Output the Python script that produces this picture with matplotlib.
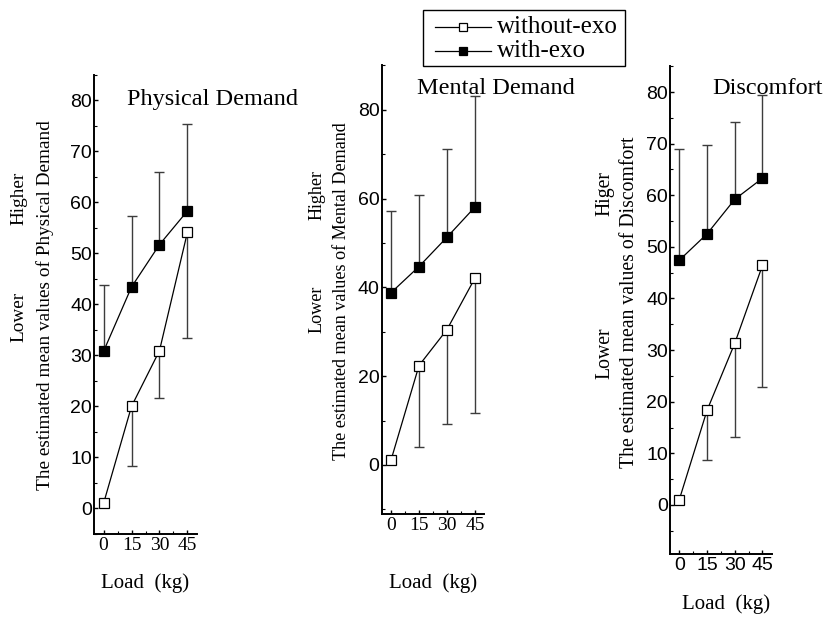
import matplotlib
matplotlib.use('Agg')
import matplotlib.pyplot as plt
from matplotlib.ticker import MultipleLocator, FixedLocator
from matplotlib.lines import Line2D
from matplotlib.patches import Rectangle

W, H = 826, 626

# ---------------- data ----------------
loads = [0, 15, 30, 45]
load_labels = ['0', '15', '30', '45']
series_names = ['without-exo', 'with-exo']

phys_without = [1.0, 20.0, 30.9, 54.1]
phys_with = [30.8, 43.4, 51.7, 58.3]
phys_without_err = [0.0, 11.8, 9.3, 20.7]   # lower error
phys_with_err = [13.0, 13.9, 14.3, 17.1]    # upper error

ment_without = [1.1, 22.4, 30.5, 42.1]
ment_with = [38.8, 44.7, 51.3, 58.1]
ment_without_err = [0.0, 18.4, 21.3, 30.4]
ment_with_err = [18.5, 16.2, 19.8, 24.9]

disc_without = [1.0, 18.3, 31.3, 46.4]
disc_with = [47.4, 52.5, 59.2, 63.3]
disc_without_err = [0.0, 9.5, 18.2, 23.5]
disc_with_err = [21.6, 17.3, 15.0, 16.1]

titles = ['Physical Demand', 'Mental Demand', 'Discomfort']
ylabels = ['The estimated mean values of Physical Demand',
           'The estimated mean values of Mental Demand',
           'The estimated mean values of Discomfort']
high_words = ['Higher', 'Higher', 'Higer']
low_word = 'Lower'
xlabel = 'Load  (kg)'

data = [
    (phys_without, phys_without_err, phys_with, phys_with_err),
    (ment_without, ment_without_err, ment_with, ment_with_err),
    (disc_without, disc_without_err, disc_with, disc_with_err),
]

# ---------------- layout (pixels) ----------------
layout = [
    dict(box=(94.3, 196.7, 74.8, 533.8), ylim=(-5, 85), major=10, minor=5,
         xtick_font='Liberation Serif', lab_fs=13.9,
         title=(127, 100), ylab=(45, 305), hi=(19, 198), lo=(19, 317),
         xlab=(145, 583)),
    dict(box=(381.7, 484.3, 65.4, 513.8), ylim=(-11, 90), major=20, minor=10,
         xtick_font='Liberation Serif', lab_fs=13.1,
         title=(417, 88), ylab=(341.7, 291), hi=(316.7, 195.5),
         lo=(316.7, 309.6), xlab=(433.3, 583)),
    dict(box=(670.0, 771.7, 66.2, 554.0), ylim=(-9.5, 85), major=10, minor=5,
         xtick_font='Liberation Sans', lab_fs=14.2,
         title=(712, 88), ylab=(630, 302), hi=(605, 193.5), lo=(605, 352.7),
         xlab=(725.7, 604)),
]

plt.rcParams['font.family'] = ['Liberation Sans', 'DejaVu Sans']

fig = plt.figure(figsize=(W / 100, H / 100), dpi=100)


def fpos(x, y):
    return x / W, 1 - y / H


serif = ['Liberation Serif', 'DejaVu Serif']
errc = '#3c3c3c'

for i, (spec, (wo, wo_e, wi, wi_e)) in enumerate(zip(layout, data)):
    l, r, t, b = spec['box']
    ax = fig.add_axes([l / W, 1 - b / H, (r - l) / W, (b - t) / H])
    ax.set_xlim(-5, 50)
    ax.set_ylim(*spec['ylim'])
    for s in ['top', 'right']:
        ax.spines[s].set_visible(False)
    for s in ['left', 'bottom']:
        ax.spines[s].set_linewidth(1.4)

    # one-sided error bars
    idx = [k for k in range(len(loads)) if wo_e[k] > 0]
    ax.errorbar([loads[k] for k in idx], [wo[k] for k in idx],
                yerr=[[wo_e[k] for k in idx], [0] * len(idx)],
                fmt='none', ecolor=errc, elinewidth=1.0, capsize=3.6,
                capthick=1.0, zorder=2)
    idx = [k for k in range(len(loads)) if wi_e[k] > 0]
    ax.errorbar([loads[k] for k in idx], [wi[k] for k in idx],
                yerr=[[0] * len(idx), [wi_e[k] for k in idx]],
                fmt='none', ecolor=errc, elinewidth=1.0, capsize=3.6,
                capthick=1.0, zorder=2)

    ax.plot(loads, wo, color='black', lw=0.9, marker='s', ms=6.8,
            mfc='white', mec='black', mew=0.9, zorder=3, clip_on=False)
    ax.plot(loads, wi, color='black', lw=0.9, marker='s', ms=6.8,
            mfc='black', mec='black', mew=0.9, zorder=3, clip_on=False)

    ax.xaxis.set_major_locator(FixedLocator(loads))
    ax.xaxis.set_minor_locator(MultipleLocator(7.5))
    ax.set_xticklabels(load_labels, fontfamily=spec['xtick_font'], fontsize=14)
    ax.set_yticks(list(range(0, 81, spec['major'])))
    ax.yaxis.set_minor_locator(MultipleLocator(spec['minor']))
    ax.set_yticklabels([str(v) for v in range(0, 81, spec['major'])],
                       fontfamily='Liberation Sans', fontsize=14)
    ax.tick_params(axis='both', which='major', direction='in', length=3,
                   width=1.0, pad=2)
    ax.tick_params(axis='both', which='minor', direction='in', length=2,
                   width=0.8)
    ax.tick_params(axis='y', which='major', pad=1.5)

    fs = spec['lab_fs']
    tx, ty = fpos(*spec['title'])
    fig.text(tx, ty, titles[i], fontsize=17.5, family=serif, ha='left',
             va='center')
    lx, ly = fpos(*spec['ylab'])
    fig.text(lx, ly, ylabels[i], fontsize=fs, family=serif, rotation=90,
             ha='center', va='center')
    hx, hy = fpos(*spec['hi'])
    fig.text(hx, hy, high_words[i], fontsize=fs, family=serif, rotation=90,
             ha='center', va='center')
    ox, oy = fpos(*spec['lo'])
    fig.text(ox, oy, low_word, fontsize=fs, family=serif, rotation=90,
             ha='center', va='center')
    xx, xy = fpos(*spec['xlab'])
    fig.text(xx, xy, xlabel, fontsize=15, family=serif, ha='center',
             va='center')

# ---------------- legend (drawn in figure pixels) ----------------
bx0, by0, bx1, by1 = 423, 10, 625, 66
fig.add_artist(Rectangle(fpos(bx0, by1), (bx1 - bx0) / W, (by1 - by0) / H,
                         transform=fig.transFigure, fill=True, fc='white',
                         ec='black', lw=1.0))
rows = [27, 51]
fills = ['white', 'black']
for name, ry, fc in zip(series_names, rows, fills):
    (x0, y0), (x1, _) = fpos(435, ry), fpos(491, ry)
    fig.add_artist(Line2D([x0, x1], [y0, y0], transform=fig.transFigure,
                          color='black', lw=0.9))
    mx, my = fpos(463, ry)
    fig.add_artist(Line2D([mx], [my], transform=fig.transFigure,
                          marker='s', ms=6, mfc=fc, mec='black', mew=0.9,
                          color='black', lw=0))
    tx, ty = fpos(497, ry)
    fig.text(tx, ty, name, fontsize=18, family=serif, ha='left',
             va='center')

fig.savefig('out.png', dpi=100)
